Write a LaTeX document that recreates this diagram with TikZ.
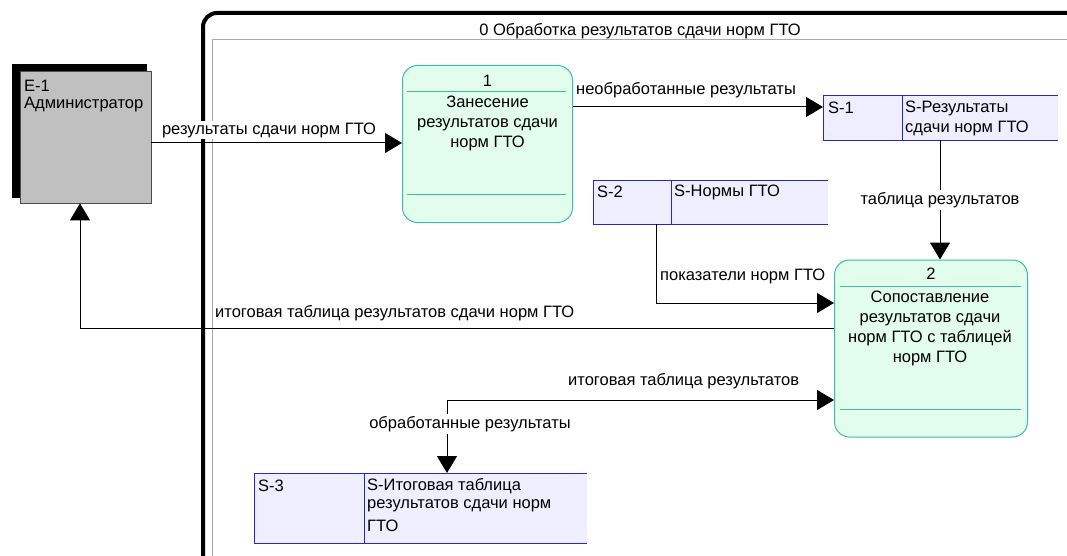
\documentclass[tikz,border=0pt]{standalone}
\usepackage{fontspec}
\setmainfont{Liberation Sans}
\usetikzlibrary{arrows.meta}
\definecolor{procfill}{RGB}{226,252,238}
\definecolor{procline}{RGB}{60,190,160}
\definecolor{storefill}{RGB}{238,238,255}
\definecolor{storeline}{RGB}{40,40,200}
\definecolor{entfill}{RGB}{192,192,192}
\definecolor{framegray}{RGB}{170,170,170}
\begin{document}
\begin{tikzpicture}[x=1pt,y=-1pt,
  font=\fontsize{16.5}{20}\selectfont,
  tip/.tip={Triangle[length=17pt,width=20pt]},
  flow/.style={draw=black, line width=1pt, -tip},
  biflow/.style={draw=black, line width=1pt, tip-tip},
  procbox/.style={draw=procline, fill=procfill, line width=1pt, rounded corners=15pt, inner sep=0pt},
  storebg/.style={fill=storefill, draw=none, inner sep=0pt, anchor=north west},
  storeln/.style={draw=storeline, line width=1pt},
  lbl/.style={inner sep=1pt},
  wlbl/.style={fill=white, inner sep=2pt},
  txt/.style={inner sep=0pt, anchor=west}]
\useasboundingbox (0,0) rectangle (1067,556);
\fill[white] (0,0) rectangle (1067,556);

% frame
\draw[line width=4pt, rounded corners=14pt] (203,570) -- (203,13) -- (1080,13);
\draw[framegray, line width=1pt] (212,570) -- (212,40) -- (1080,40);
\node[lbl] (title) at (640,31) {0 Обработка результатов сдачи норм ГТО};

% external entity
\fill[black] (12,64) rectangle (147,198);
\node[draw=black!70, fill=entfill, line width=0.8pt, minimum width=131pt, minimum height=132pt, inner sep=0pt] (e1) at (85.5,137) {};
\node[txt] (e1id) at (24,86) {E-1};
\node[txt] (e1nm) at (24,105) {Администратор};

% process 1
\node[procbox, minimum width=170pt, minimum height=157pt] (p1) at (487.5,144) {};
\draw[procline, line width=1pt] (407,92) -- (566,92);
\draw[procline, line width=1pt] (407,194) -- (566,194);
\node[lbl] (p1id) at (487.5,81) {1};
\node[lbl, align=center] (p1nm) at (487.5,123) {Занесение\\результатов сдачи\\норм ГТО};

% process 2
\node[procbox, minimum width=193pt, minimum height=177pt] (p2) at (931,348.5) {};
\draw[procline, line width=1pt] (840,286) -- (1021,286);
\draw[procline, line width=1pt] (840,409) -- (1021,409);
\node[lbl] (p2id) at (931,274) {2};
\node[lbl, align=center] (p2nm) at (930,328) {Сопоставление\\результатов сдачи\\норм ГТО с таблицей\\норм ГТО};

% store S-1
\node[storebg, minimum width=235pt, minimum height=44pt] (s1) at (823,96) {};
\draw[storeln] (s1.north east) -- (s1.north west) -- (s1.south west) -- (s1.south east);
\draw[storeln] (902,96) -- (902,140);
\node[txt] (s1id) at (828,108) {S-1};
\node[txt] (s1a) at (905,108) {S-Результаты};
\node[txt] (s1b) at (905,128) {сдачи норм ГТО};

% store S-2
\node[storebg, minimum width=235pt, minimum height=43pt] (s2) at (593,181) {};
\draw[storeln] (s2.north east) -- (s2.north west) -- (s2.south west) -- (s2.south east);
\draw[storeln] (671,181) -- (671,224);
\node[txt] (s2id) at (597,192) {S-2};
\node[txt] (s2a) at (674,192) {S-Нормы ГТО};

% store S-3
\node[storebg, minimum width=333pt, minimum height=70pt] (s3) at (254,473) {};
\draw[storeln] (s3.north east) -- (s3.north west) -- (s3.south west) -- (s3.south east);
\draw[storeln] (364,473) -- (364,543);
\node[txt] (s3id) at (258,486) {S-3};
\node[txt] (s3a) at (367,486) {S-Итоговая таблица};
\node[txt] (s3b) at (367,506) {результатов сдачи норм};
\node[txt] (s3c) at (367,526) {ГТО};

% flows
\draw[flow] (e1.east |- 0,143) -- (p1.west |- 0,143);
\node[wlbl] (l1) at (269,130) {результаты сдачи норм ГТО};

\draw[flow] (p1.east |- 0,107) -- (s1.west |- 0,107);
\node[lbl, anchor=west] (l2) at (575,90) {необработанные результаты};

\draw[flow] (940,0 |- s1.south) -- (940,0 |- p2.north);
\node[wlbl] (l3) at (940,200) {таблица результатов};

\draw[flow] (656,0 |- s2.south) -- (656,303) -- (p2.west |- 0,303);
\node[lbl, anchor=west] (l4) at (659,276) {показатели норм ГТО};

\draw[flow] (p2.west |- 0,328) -- (80,328) -- (80,0 |- e1.south);
\node[lbl, anchor=west] (l5) at (214,313) {итоговая таблица результатов сдачи норм ГТО};

\draw[biflow] (447,0 |- s3.north) -- (447,400) -- (p2.west |- 0,400);
\node[lbl, anchor=west] (l6) at (567,381) {итоговая таблица результатов};
\node[wlbl] (l7) at (470,424) {обработанные результаты};
\end{tikzpicture}
\end{document}
